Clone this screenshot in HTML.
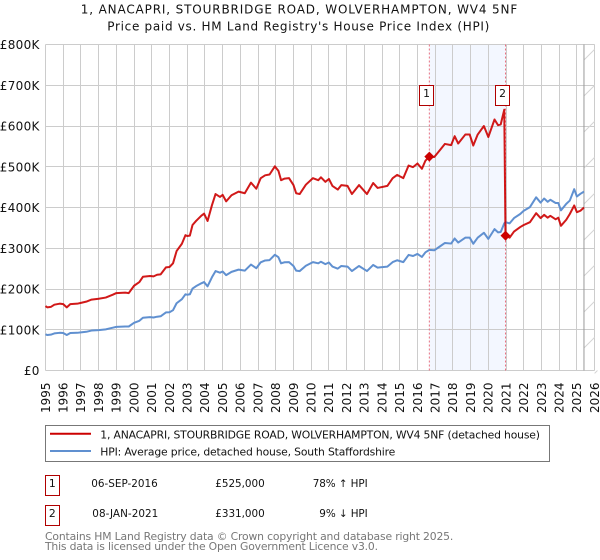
<!DOCTYPE html>
<html lang="en">
<head>
<meta charset="utf-8">
<title>1, ANACAPRI, STOURBRIDGE ROAD - Price paid vs. HPI</title>
<style>
  html, body { margin: 0; padding: 0; background: #fff; }
  svg { display: block; font-family: "DejaVu Sans", "Liberation Sans", sans-serif; }
</style>
</head>
<body>
<svg id="chart" xmlns="http://www.w3.org/2000/svg" width="600" height="560" viewBox="0 0 600 560">
  <text x="299" y="13.5" font-size="12" text-anchor="middle" fill="#111" textLength="436.5" lengthAdjust="spacing">1, ANACAPRI, STOURBRIDGE ROAD, WOLVERHAMPTON, WV4 5NF</text>
  <text x="298.3" y="30.5" font-size="12" text-anchor="middle" fill="#111" textLength="382" lengthAdjust="spacing">Price paid vs. HM Land Registry's House Price Index (HPI)</text>

  <g id="plot"></g>

  <g>
    <rect x="45.5" y="425.5" width="504" height="36" fill="#fff" stroke="#777" stroke-width="1"/>
    <line x1="50" x2="91" y1="433.7" y2="433.7" stroke="#cc0000" stroke-width="2"/>
    <text x="100.3" y="438.5" font-size="10.8" fill="#111" textLength="439.7" lengthAdjust="spacing">1, ANACAPRI, STOURBRIDGE ROAD, WOLVERHAMPTON, WV4 5NF (detached house)</text>
    <line x1="50" x2="91" y1="451" y2="451" stroke="#6090d0" stroke-width="2"/>
    <text x="100.3" y="455.5" font-size="10.8" fill="#111" textLength="295" lengthAdjust="spacing">HPI: Average price, detached house, South Staffordshire</text>
  </g>

  <g>
    <rect x="45.5" y="475.5" width="14" height="20" fill="#fff" stroke="#b00000" stroke-width="1"/>
    <text x="52.3" y="487" font-size="10.8" text-anchor="middle" fill="#111">1</text>
    <text x="91.3" y="487" font-size="10.4" fill="#111" textLength="66.4" lengthAdjust="spacing">06-SEP-2016</text>
    <text x="215.3" y="487" font-size="10.4" fill="#111" textLength="49.4" lengthAdjust="spacing">£525,000</text>
    <text x="312.7" y="487" font-size="10.4" fill="#111" textLength="55" lengthAdjust="spacing">78% ↑ HPI</text>
  </g>
  <g>
    <rect x="45.5" y="505.5" width="14" height="20" fill="#fff" stroke="#b00000" stroke-width="1"/>
    <text x="52.3" y="517" font-size="10.8" text-anchor="middle" fill="#111">2</text>
    <text x="92.3" y="517" font-size="10.4" fill="#111" textLength="66" lengthAdjust="spacing">08-JAN-2021</text>
    <text x="215.3" y="517" font-size="10.4" fill="#111" textLength="49.4" lengthAdjust="spacing">£331,000</text>
    <text x="319.3" y="517" font-size="10.4" fill="#111" textLength="48.4" lengthAdjust="spacing">9% ↓ HPI</text>
  </g>

  <text x="45" y="540" font-size="10.8" fill="#777" textLength="408.3" lengthAdjust="spacing">Contains HM Land Registry data © Crown copyright and database right 2025.</text>
  <text x="45" y="550" font-size="10.8" fill="#777" textLength="333" lengthAdjust="spacing">This data is licensed under the Open Government Licence v3.0.</text>
</svg>
<script>
const yearTicks = [1995,1996,1997,1998,1999,2000,2001,2002,2003,2004,2005,2006,2007,2008,2009,2010,2011,2012,2013,2014,2015,2016,2017,2018,2019,2020,2021,2022,2023,2024,2025,2026];
const valueTicks = [0,100,200,300,400,500,600,700,800];
const valueTickLabels = ["£0","£100K","£200K","£300K","£400K","£500K","£600K","£700K","£800K"];
const dates = [1995.0,1995.1,1995.3,1995.5,1995.8,1996.0,1996.2,1996.4,1996.8,1997.0,1997.3,1997.6,1998.0,1998.4,1998.8,1999.0,1999.5,1999.7,2000.0,2000.3,2000.5,2000.9,2001.1,2001.3,2001.5,2001.8,2002.0,2002.2,2002.4,2002.7,2002.9,2003.0,2003.15,2003.3,2003.5,2003.8,2003.95,2004.15,2004.4,2004.6,2004.85,2005.0,2005.2,2005.5,2005.9,2006.25,2006.6,2006.9,2007.15,2007.4,2007.65,2007.95,2008.15,2008.3,2008.5,2008.75,2009.0,2009.15,2009.35,2009.7,2010.1,2010.4,2010.55,2010.8,2011.0,2011.2,2011.5,2011.7,2012.05,2012.3,2012.7,2013.15,2013.5,2013.75,2014.3,2014.6,2014.85,2015.2,2015.5,2015.75,2016.0,2016.25,2016.45,2016.67,2016.95,2017.25,2017.55,2017.9,2018.1,2018.3,2018.7,2018.95,2019.15,2019.4,2019.75,2020.0,2020.35,2020.55,2020.7,2020.9,2020.97,2021.2,2021.45,2021.8,2022.0,2022.35,2022.7,2022.95,2023.15,2023.35,2023.5,2023.8,2023.95,2024.1,2024.4,2024.6,2024.85,2025.0,2025.2,2025.4];
const hpiValues = [89,87,88,91,92.5,92,87,92,92.5,93.5,95,98,99,101,105,107,108,108,117,122,129.5,131,130,132,133,142.6,143,148,165,175,187,186,187,201,207,214,217,206.5,229,244,240,243,234,242,247.5,245,260,251,265.6,270,271,284,278,263,265.6,266,256.5,245,244,257,266,263,267,261,265,255,250,256.5,255,244,256.5,244,259,252.5,255,266,270.5,266,283.6,281,286,278.7,290,296,295,304,313,311.5,324,314,326,326,311,326,338,323,347,339,340,361,364,361,374,384,392,401,425,412,422,414,419,411,411,393,409,417,445,427,433.6,439];
const priceValues = [158,155,156,161.5,164,163,155,163,164,166,169,174,176,179,186,190,191,190,208,217,230,232,231,235,236,253,254,263,293,311,332,330,331,357,367,380,385,367,406,433,426,431,415,430,439,435,461,446,472,479,481,501,490,467,471,472,455,435,433,456,472,467,474,463,470,453,444,455,453,433,455,433,460,448,453,472,480,472,503,499,508,495,515,525,524,540,556,553,575,557,579,579,552,579,600,573,616,602,604,640,331,326,341,352,357,364,386,374,382,375,379.5,371,375,355,370,384,405,388.5,392,400];
const saleDates = [2016.67, 2020.97];
const salePrices = [525, 331];
const saleLabels = ["1", "2"];
const dataEndDate = 2025.4;

const NS = 'http://www.w3.org/2000/svg';
const plot = document.getElementById('plot');
const left = 45.5, right = 594.6, top_ = 44.5, bottom = 370.5;
function xScale(year) { return left + (year - 1995) * (right - left) / 31; }
function yScale(value) { return bottom - value * (bottom - top_) / 800; }
function add(tag, attrs, parent) {
  const el = document.createElementNS(NS, tag);
  for (const k in attrs) el.setAttribute(k, attrs[k]);
  (parent || plot).appendChild(el);
  return el;
}
function linePath(xs, ys) {
  return xs.map((d, i) => (i ? 'L' : 'M') + xScale(d).toFixed(2) + ' ' + yScale(ys[i]).toFixed(2)).join('');
}

// shaded span between the two sales
const span = add('rect', {x: xScale(saleDates[0]), y: top_, width: xScale(saleDates[1]) - xScale(saleDates[0]), height: bottom - top_, fill: '#f3f7ff'});



// grid
yearTicks.forEach(function (yr) {
  const g = add('line', {x1: Math.round(xScale(yr) - 0.5) + 0.5, x2: Math.round(xScale(yr) - 0.5) + 0.5, y1: top_, y2: bottom, stroke: '#cccccc', 'stroke-width': 1});
  
  
  const t = add('text', {transform: 'translate(' + (xScale(yr) + 4.3) + ',382.5) rotate(-90)', 'font-size': 12, 'text-anchor': 'end', fill: '#111'});
  t.textContent = yr;
  
  
});
valueTicks.forEach(function (v, i) {
  const g = add('line', {x1: left, x2: right, y1: Math.round(yScale(v) - 0.5) + 0.5, y2: Math.round(yScale(v) - 0.5) + 0.5, stroke: '#cccccc', 'stroke-width': 1});
  
  
  const t = add('text', {x: 39.7, y: yScale(v) + 4.6, 'font-size': 12, 'text-anchor': 'end', 'letter-spacing': 0.3, fill: '#111'});
  t.textContent = valueTickLabels[i];
  
  
});

// forecast hatch after the last data date
const endX = xScale(dataEndDate);
for (let y = 60; y < 400; y += 36) {
  const y1 = Math.min(y, bottom);
  const dx = y - y1;
  const h = add('line', {x1: endX + dx, y1: y1, x2: right, y2: y - (right - endX), stroke: '#d4d4d4', 'stroke-width': 1});
  
  
}
const endLine = add('line', {x1: endX, x2: endX, y1: top_, y2: bottom, stroke: '#999999', 'stroke-width': 1});



// sale reference lines
saleDates.forEach(function (d) {
  const l = add('line', {x1: xScale(d), x2: xScale(d), y1: top_, y2: bottom, stroke: '#e87080', 'stroke-width': 1, 'stroke-dasharray': '2 2'});
  
  
});

// series
const hpiLine = add('path', {d: linePath(dates, hpiValues), fill: 'none', stroke: '#6090d0', 'stroke-width': 2, 'stroke-linejoin': 'round'});


const priceLine = add('path', {d: linePath(dates, priceValues), fill: 'none', stroke: '#cc0000', 'stroke-width': 2, 'stroke-linejoin': 'round', 'stroke-opacity': 0.9});



// sale markers and badges
saleDates.forEach(function (d, i) {
  const cx = xScale(d), cy = yScale(salePrices[i]), r = 5;
  const m = add('polygon', {points: [cx - r, cy, cx, cy - r, cx + r, cy, cx, cy + r].join(' '), fill: '#cc0000'});
  
  
  const b = add('rect', {x: Math.floor(cx - 10) + 0.5, y: 85.5, width: 14, height: 20, fill: '#fff', stroke: '#b00000', 'stroke-width': 1});
  
  
  const t = add('text', {x: Math.floor(cx - 10) + 7.5, y: 97, 'font-size': 10.8, 'text-anchor': 'middle', fill: '#111'});
  t.textContent = saleLabels[i];
  
  
});
</script>
</body>
</html>
